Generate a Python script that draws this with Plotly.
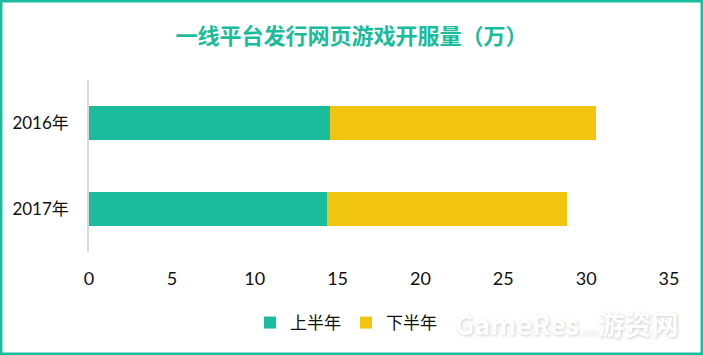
import plotly.graph_objects as go

categories = ["2016年", "2017年"]
first_half = [14.55, 14.36]
second_half = [16.03, 14.47]
series_names = ["上半年", "下半年"]
x_ticks = [0, 5, 10, 15, 20, 25, 30, 35]

GREEN = "#1ABC9C"
YELLOW = "#F1C40F"
FONT = "Lato, 'Noto Sans CJK SC', sans-serif"

W, H = 703, 355
ML, MR, MT, MB = 89, 34, 80, 103
PW, PH = W - ML - MR, H - MT - MB

fig = go.Figure()
fig.add_trace(go.Bar(y=categories, x=first_half, name=series_names[0],
                     orientation="h", marker=dict(color=GREEN, line=dict(width=0))))
fig.add_trace(go.Bar(y=categories, x=second_half, name=series_names[1],
                     orientation="h", marker=dict(color=YELLOW, line=dict(width=0))))

def px_x(p):
    return (p - ML) / PW

def px_y(p):
    return (MT + PH - p) / PH

fig.update_layout(
    width=W, height=H,
    margin=dict(l=ML, r=MR, t=MT, b=MB),
    barmode="stack",
    bargap=0.6,
    paper_bgcolor="white",
    plot_bgcolor="white",
    font=dict(family=FONT, size=17, color="#111111"),
    title=dict(text="<b>一线平台发行网页游戏开服量（万）</b>",
               font=dict(family="'Noto Sans CJK SC', sans-serif", size=22, color=GREEN),
               x=0.5, xanchor="center", xref="container",
               y=1 - 36 / H, yanchor="middle", yref="container"),
    xaxis=dict(range=[0, 35], tickvals=x_ticks, showgrid=False, zeroline=False,
               showline=False, ticks="", ticklabelstandoff=14,
               tickfont=dict(size=18, family=FONT, color="#111111"), fixedrange=True),
    yaxis=dict(autorange="reversed", showgrid=False, zeroline=False,
               showline=True, linecolor="#d9d9d9", linewidth=1.5, ticks="",
               ticklabelstandoff=15,
               tickfont=dict(size=17, family=FONT, color="#111111"), fixedrange=True),
    legend=dict(orientation="h", x=px_x(346), xanchor="center",
                y=px_y(323), yanchor="middle",
                font=dict(size=17, family=FONT, color="#111111"),
                itemwidth=30, traceorder="normal", bgcolor="rgba(0,0,0,0)"),
    showlegend=True,
)

# watermark
fig.add_annotation(text="<b>GameRes</b><span style='font-size:8px'>.com</span><b>游资网</b>",
                   xref="paper", yref="paper", x=px_x(680), y=px_y(323),
                   showarrow=False, xanchor="right", yanchor="middle",
                   font=dict(family="'Noto Sans CJK SC', sans-serif", size=27, color="#ffffff",
                             shadow="1px 1px 3px #c8c8c8"),
                   opacity=0.9)

# outer border
fig.add_shape(type="rect", xref="paper", yref="paper",
              x0=px_x(1.2), x1=px_x(W - 1.2), y0=px_y(H - 1.2), y1=px_y(1.2),
              line=dict(color=GREEN, width=2.5), layer="above")

fig.write_html("out.html")
